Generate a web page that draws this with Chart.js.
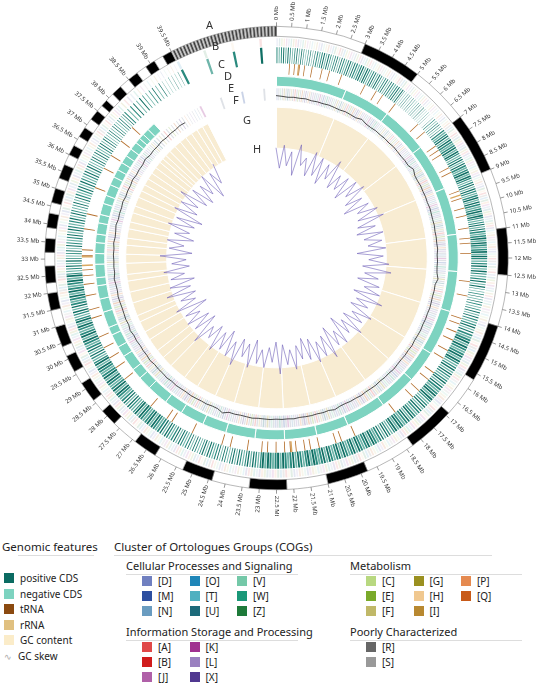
<!DOCTYPE html>
<html>
<head>
<meta charset="utf-8">
<script src="https://cdn.jsdelivr.net/npm/chart.js@4.4.0/dist/chart.umd.min.js"></script>
<style>
body{margin:0;background:#fff;font-family:"Noto Sans",sans-serif;color:#222;}
#wrap{position:relative;width:553px;height:685px;overflow:hidden;}
canvas{position:absolute;left:0;top:0;}
.abs{position:absolute;white-space:nowrap;}
.ring{font-size:11px;color:#333;}
.h1{font-size:11.5px;}
.h2{font-size:11px;}
.ul{position:absolute;height:1px;background:#ddd;}
.it{position:absolute;font-size:10px;line-height:12px;white-space:nowrap;}
.it i{display:inline-block;width:10px;height:10px;vertical-align:-1px;margin-right:6px;}
</style>
</head>
<body>
<div id="wrap">
<canvas id="rings" width="553" height="516"></canvas>
<canvas id="gc" width="553" height="516"></canvas>
<canvas id="skew" width="553" height="516"></canvas>
<div id="legend"></div>
</div>
<script>
// angular layout of the genome (Mb -> degrees from top)
const mbAnchors  = [0, 12, 22.5, 28, 33.5, 36, 38, 39, 39.5, 39.8];
const degAnchors = [0, 90, 180, 227, 274, 296.5, 313.7, 327, 333, 360];

// contig ends (Mb) in the outer ideogram
const contigEnds = [3,5,7,9,11,12.5,14,15.7,16.9,18.3,19.8,21,22.2,23.3,24.4,25.3,26.2,26.9,27.7,28.2,
  28.6,29.2,29.6,30.1,30.4,31,31.5,32,32.3,32.8,33.2,33.6,33.9,34.3,34.6,35,35.3,35.7,36,36.3,36.6,36.9,
  37.2,37.5,37.7,37.9,38.1,38.3,38.5,38.7,38.9,39.1,39.3,39.5];
const tinyContigs = 60; // hatched tail of small contigs after 39.5 Mb

// positive CDS density per 0.5 Mb bin (0..39.5)
const posCds = [0.5,0.4,0.3,0.5,0.4,0.5,0.6,0.5,0.4,0.5,0.2,0.2,0.1,0.3,0.7,0.8,0.6,0.8,0.6,0.7,
  0.8,0.6,0.8,0.8,0.6,0.5,0.3,0.4,0.5,0.8,0.8,0.6,0.6,0.8,0.6,0.7,0.8,0.6,0.8,0.8,
  0.8,0.8,0.9,0.8,0.9,0.9,0.6,0.5,0.4,0.5,0.4,0.5,0.6,0.8,0.8,0.6,0.8,0.8,0.8,0.6,
  0.8,0.8,0.6,0.8,0.8,0.5,0.4,0.5,0.5,0.4,0.5,0.5,0.4,0.4,0.3,0.3,0.3,0.2,0.1,0.1];
// COG annotation density per bin (faint rings)
const cogDensity = [0.7,0.7,0.6,0.7,0.7,0.6,0.7,0.7,0.6,0.7,0.5,0.5,0.5,0.6,0.7,0.8,0.8,0.8,0.7,0.8,
  0.8,0.8,0.8,0.8,0.7,0.7,0.6,0.7,0.7,0.8,0.8,0.8,0.8,0.8,0.8,0.8,0.8,0.8,0.8,0.8,
  0.8,0.8,0.9,0.8,0.9,0.9,0.8,0.7,0.7,0.7,0.7,0.7,0.8,0.8,0.8,0.8,0.8,0.8,0.8,0.8,
  0.8,0.8,0.8,0.8,0.8,0.7,0.7,0.7,0.7,0.7,0.7,0.7,0.6,0.6,0.6,0.5,0.4,0.3,0.2,0.1];
// tRNA / rRNA positions (Mb)
const trnaPos = [0.5,0.7,0.9,1.1,1.4,1.8,2.1,2.6,3.6,4.1,4.4,5.0,6.2,6.6,7.3,7.5,7.7,8.3,8.5,9.3,9.6,10.0,
  10.3,10.8,11.2,11.4,11.8,12.8,13.3,14.1,14.3,14.6,14.9,15.3,15.6,16.2,16.5,17.0,17.3,18.1,19.7,20.2,
  20.4,21.0,21.3,21.5,21.8,22.0,22.2,22.5,22.8,23.0,23.5,24.1,24.4,25.5,26.3,26.5,27.2,28.5,29.0,29.4,
  29.8,30.2,30.9,31.2,31.7,32.1,32.4,32.6,33.1,33.3,34.0,34.5,35.4,36.1,36.6,37.2,37.8];
const rrnaPos = [0.8,9.4,21.9,32.7,33.0];
const negCdsEnd = 38.3;

// GC content (%) and GC skew, one value every 2 degrees clockwise from 0 Mb
const gcContent = [
  43,42.5,42,42.4,42.2,42.6,42,42.3,42.1,42.5, 42.2,42,42.6,42.3,42.1,43.5,42.2,42,42.4,42.1,
  42.3,42,42.5,42.2,42,42.3,42.1,44,42.2,42, 42.4,42.1,42.3,42,42.5,42.2,42.1,42.4,42,42.3,
  42.2,42.6,42,42.3,42.1,42.4,43.8,42.1,42.3,42, 42.2,42.5,42.1,42.3,42,42.4,42.2,42,42.5,42.1,
  42.3,42,42.2,42.6,42.1,42.3,42,42.4,42.2,42, 42.5,42.1,42.3,42,42.2,43.2,42.1,42.4,42,42.3,
  42.2,42,42.5,42.1,42.3,42,42.4,42.2,42.1,42.6, 42.2,42,42.3,42.1,44.2,42.3,42,42.4,42.1,42.3,
  42.5,42.1,42.3,42.6,42.2,42.8,42.3,42.5,42.2,43, 42.4,42.6,42.3,42.8,42.5,43.4,42.4,42.9,42.6,42.5,
  42.8,43.1,42.6,42.9,43.6,42.7,43,42.8,43.2,42.9, 43.5,42.8,43.1,43.8,42.9,43.2,43,43.6,42.9,43.3,
  43.1,43.8,43,43.4,43.2,44.2,43.1,43.5,43.3,43.8, 43.2,43.6,43.4,44,43.5,null,null,null,null,null,
  null,null,null,null,null,null,null,null,null,null];
const gcSkew = [
  0.04,-0.03,0.05,-0.02,0.03,-0.05,0.06,-0.01,0.02,-0.04, 0.05,-0.03,0.04,-0.05,0.03,-0.02,0.06,-0.04,0.02,-0.03,
  0.03,-0.05,0.04,-0.02,0.05,-0.04,0.02,-0.06,0.03,-0.02, 0.05,-0.03,0.06,-0.04,0.02,-0.05,0.04,-0.03,0.03,-0.02,
  0.04,-0.06,0.03,-0.02,0.05,-0.04,0.06,-0.03,0.02,-0.05, 0.03,-0.02,0.04,-0.05,0.06,-0.03,0.02,-0.04,0.05,-0.02,
  0.03,-0.04,0.05,-0.03,0.02,-0.06,0.04,-0.02,0.03,-0.05, 0.06,-0.03,0.04,-0.02,0.05,-0.04,0.03,-0.05,0.02,-0.03,
  0.05,-0.02,0.03,-0.04,0.06,-0.05,0.02,-0.03,0.04,-0.02, 0.03,-0.05,0.05,-0.03,0.02,-0.04,0.06,-0.02,0.04,-0.05,
  0.03,-0.03,0.05,-0.04,0.02,-0.02,0.06,-0.05,0.03,-0.04, 0.04,-0.02,0.03,-0.06,0.05,-0.03,0.02,-0.04,0.06,-0.03,
  0.04,-0.05,0.03,-0.02,0.05,-0.04,0.02,-0.03,0.06,-0.05, 0.03,-0.02,0.04,-0.05,0.02,-0.03,0.05,-0.04,0.03,-0.06,
  0.05,-0.03,0.04,-0.02,0.06,-0.04,0.03,-0.05,0.02,-0.03, 0.04,-0.06,0.03,-0.02,0.05,null,null,null,null,null,
  null,null,null,null,null,null,null,null,null,null];

const cogColors = ['#7080c0','#2d4fa0','#6a9cc0','#1f86b8','#4fb0c0','#1c6a7a','#74c8a8','#1a9878','#1e7a3a',
  '#b8d880','#7aaa2a','#c0b868','#9a9020','#f0c890','#b88830','#e58a50','#c85a18',
  '#e04848','#d01c1c','#b060a8','#a03090','#9a80c0','#503890','#666666','#999999'];

function angleOf(mb){
  for(let i=1;i<mbAnchors.length;i++){
    if(mb<=mbAnchors[i]){
      const t=(mb-mbAnchors[i-1])/(mbAnchors[i]-mbAnchors[i-1]);
      return degAnchors[i-1]+t*(degAnchors[i]-degAnchors[i-1]);
    }
  }
  return 360;
}
function hexA(h,a){
  const n=parseInt(h.slice(1),16);
  return `rgba(${n>>16},${(n>>8)&255},${n&255},${a})`;
}
// segments [[startMb,endMb,color]] -> doughnut dataset
function ring(segs,weight,border,borderColor){
  const data=[],colors=[];let cur=0;
  segs.sort((a,b)=>a[0]-b[0]);
  segs.forEach(s=>{
    const a0=angleOf(s[0]),a1=angleOf(s[1]);
    if(a0>cur){data.push(a0-cur);colors.push('rgba(0,0,0,0)');}
    data.push(Math.max(a1-Math.max(a0,cur),0.01));colors.push(s[2]);
    cur=Math.max(a1,cur);
  });
  if(cur<360){data.push(360-cur);colors.push('rgba(0,0,0,0)');}
  return {data,backgroundColor:colors,weight,borderWidth:border||0,
    borderColor:borderColor||'#fff',hoverOffset:0};
}
function gap(w){return {data:[360],backgroundColor:['rgba(0,0,0,0)'],borderWidth:0,weight:w};}

// ideogram
const ideo=[];let prev=0;
contigEnds.forEach((e,i)=>{ideo.push([prev,e,i%2?'#000':'#fff']);prev=e;});
for(let i=0;i<tinyContigs;i++){
  const s=39.5+0.3*i/tinyContigs, e=39.5+0.3*(i+1)/tinyContigs;
  ideo.push([s,e,i%2?'#333':'#ddd']);
}
// striped bins
function stripes(dens,colorFn,n){
  const segs=[];
  dens.forEach((d,i)=>{
    for(let k=0;k<n;k++){
      const s=i*0.5+k*0.5/n;
      segs.push([s,s+d*0.5/n*0.85,colorFn(i,k)]);
    }
  });
  return segs;
}
const posSegs=stripes(posCds,(i,k)=>k%3==1?'#6fb5aa':(k%2?'#0f6f64':'#2a8a7e'),6);
const cogPSegs=stripes(cogDensity,(i,k)=>hexA(cogColors[(i*7+k*5)%cogColors.length],0.13),6);
const cogNSegs=stripes(cogDensity,(i,k)=>k%2?'rgba(150,160,175,0.3)':hexA(cogColors[(i*5+k*3)%cogColors.length],0.25),6);
const rnaSegs=trnaPos.map(p=>[p,p+0.03,'#b5702e']).concat(rrnaPos.map(p=>[p+0.05,p+0.1,'#d9a860']));
const negSegs=[];prev=0;
contigEnds.forEach(e=>{if(e<=negCdsEnd){negSegs.push([prev,e,'#7dd3c0']);prev=e;}});
const gcSegs=[];prev=0;
contigEnds.forEach(e=>{gcSegs.push([prev,e,'#f8ecd2']);prev=e;});

const tickMb=[];for(let m=0;m<=39.5;m+=0.5)tickMb.push(m);

const tickPlugin={id:'mbticks',afterDraw(chart){
  const ctx=chart.ctx,arc=chart.getDatasetMeta(0).data[0];
  const cx=arc.x,cy=arc.y,R=arc.outerRadius;
  ctx.save();ctx.strokeStyle='#555';ctx.lineWidth=0.6;ctx.fillStyle='#333';
  ctx.font='6px "Noto Sans"';ctx.textBaseline='middle';
  tickMb.forEach(m=>{
    const th=angleOf(m)*Math.PI/180;
    const sx=Math.sin(th),sy=-Math.cos(th);
    ctx.beginPath();ctx.moveTo(cx+sx*R,cy+sy*R);ctx.lineTo(cx+sx*(R+4),cy+sy*(R+4));ctx.stroke();
    const lab=(Number.isInteger(m)?m:m.toFixed(1))+' Mb';
    ctx.save();ctx.translate(cx+sx*(R+6),cy+sy*(R+6));
    if(th<=Math.PI+0.001){ctx.rotate(th-Math.PI/2);ctx.textAlign='left';}
    else{ctx.rotate(th+Math.PI/2);ctx.textAlign='right';}
    ctx.fillText(lab,0,0);ctx.restore();
  });
  ctx.restore();
}};

new Chart(document.getElementById('rings'),{
  type:'doughnut',
  data:{datasets:[
    ring(ideo,10,0.6,'#888'),
    gap(2),
    ring(cogPSegs,8),
    gap(1),
    ring(posSegs,16),
    ring(rnaSegs,11),
    gap(2),
    ring(negSegs,10,1,'#fff'),
    gap(2),
    ring(cogNSegs,12),
    gap(7),
    ring(gcSegs,41,1,'#fff')
  ]},
  options:{responsive:false,animation:false,cutout:'47.4%',
    layout:{padding:26},
    plugins:{legend:{display:false},tooltip:{enabled:false}}},
  plugins:[tickPlugin]
});

// radial line charts; round min/max so the scale keeps them as given
function radar(id,values,color,width,min,max){
  new Chart(document.getElementById(id),{
    type:'radar',
    data:{labels:values.map((v,i)=>i*2),datasets:[{data:values,borderColor:color,borderWidth:width,
      pointRadius:0,fill:false,tension:0,spanGaps:false}]},
    options:{responsive:false,animation:false,layout:{padding:26},
      plugins:{legend:{display:false},tooltip:{enabled:false}},
      scales:{r:{min,max,ticks:{display:false},grid:{display:false},
        angleLines:{display:false},pointLabels:{display:false}}}}
  });
}
radar('gc',gcContent,'#222',0.8,-90,100);
radar('skew',gcSkew,'rgba(110,95,185,0.75)',0.8,-0.34,0.46);

// ring letters and legend
const ringLetters=[['A',206,17],['B',212,38],['C',218,56],['D',224,68],['E',228,80],['F',233,92],['G',243,112],['H',253,141]];
const genomic=[['#0b6b62','positive CDS'],['#7dd3c0','negative CDS'],['#8b4a10','tRNA'],['#e0c080','rRNA'],['#fbecc9','GC content']];
const cogGroups=[
  ['Cellular Processes and Signaling',126,558,[['#7080c0','[D]'],['#2d4fa0','[M]'],['#6a9cc0','[N]'],['#1f86b8','[O]'],['#4fb0c0','[T]'],['#1c6a7a','[U]'],['#74c8a8','[V]'],['#1a9878','[W]'],['#1e7a3a','[Z]']]],
  ['Metabolism',350,558,[['#b8d880','[C]'],['#7aaa2a','[E]'],['#c0b868','[F]'],['#9a9020','[G]'],['#f0c890','[H]'],['#b88830','[I]'],['#e58a50','[P]'],['#c85a18','[Q]']]],
  ['Information Storage and Processing',126,624,[['#e04848','[A]'],['#d01c1c','[B]'],['#b060a8','[J]'],['#a03090','[K]'],['#9a80c0','[L]'],['#503890','[X]']]],
  ['Poorly Characterized',350,624,[['#666666','[R]'],['#999999','[S]']]]
];
let html='';
ringLetters.forEach(l=>html+=`<div class="abs ring" style="left:${l[1]}px;top:${l[2]}px">${l[0]}</div>`);
html+=`<div class="abs h1" style="left:2px;top:539px">Genomic features</div><div class="ul" style="left:18px;top:555px;width:76px"></div>`;
html+=`<div class="abs h1" style="left:114px;top:539px">Cluster of Ortologues Groups (COGs)</div><div class="ul" style="left:114px;top:555px;width:378px"></div>`;
genomic.forEach((g,i)=>html+=`<div class="it" style="left:4px;top:${572+i*15.5}px"><i style="background:${g[0]}"></i>${g[1]}</div>`);
html+=`<div class="it" style="left:4px;top:${572+5*15.5}px;color:#222"><span style="color:#aaa;margin-right:6px;font-size:9px">∿</span>GC skew</div>`;
cogGroups.forEach(g=>{
  html+=`<div class="abs h2" style="left:${g[1]}px;top:${g[2]}px">${g[0]}</div><div class="ul" style="left:${g[1]}px;top:${g[2]+16}px;width:172px"></div>`;
  g[3].forEach((c,i)=>{
    const col=Math.floor(i/3),row=i%3;
    html+=`<div class="it" style="left:${g[1]+16+col*47.5}px;top:${g[2]+17+row*15}px"><i style="background:${c[0]}"></i>${c[1]}</div>`;
  });
});
document.getElementById('legend').innerHTML=html;
</script>
</body>
</html>
